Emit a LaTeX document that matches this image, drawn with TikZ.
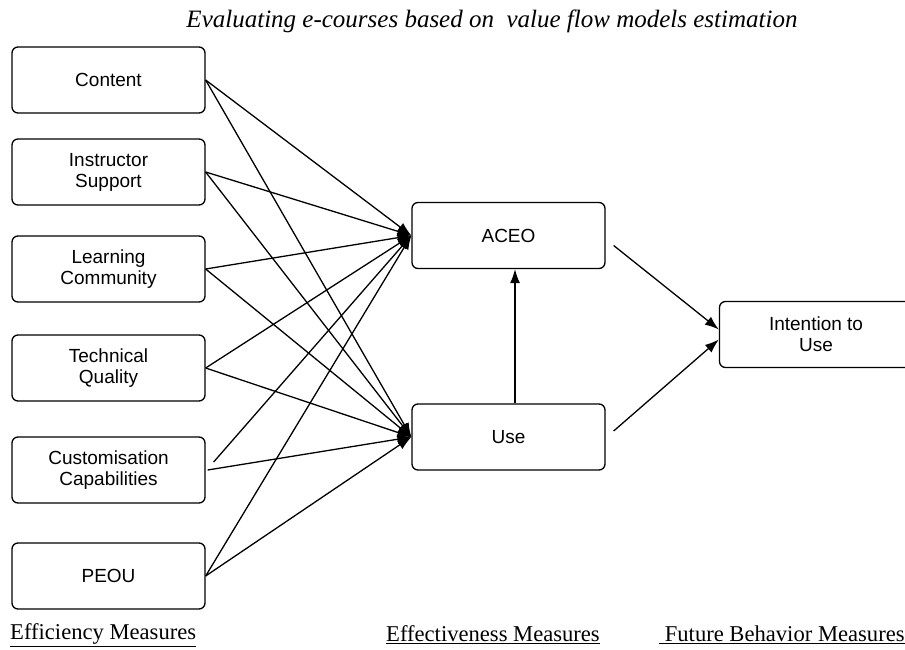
\documentclass[tikz,border=0pt]{standalone}
\usepackage{fontspec}
\setmainfont{Liberation Serif}
\setsansfont{Liberation Sans}
\usetikzlibrary{arrows.meta, positioning}

\begin{document}
\begin{tikzpicture}[
        x=1pt, y=-1pt,
        box/.style={draw, rounded corners=6pt, align=center, minimum width=193pt, minimum height=66pt, inner sep=0pt, line width=1.3pt, font=\sffamily\fontsize{19}{21}\selectfont},
        measure/.style={anchor=west, inner sep=0pt, font=\fontsize{22.6}{24}\selectfont},
        arrow/.style={-{Latex[length=14pt, width=10pt]}, line width=1.3pt}
        ]

        \clip (0,0) rectangle (905,650);

        % Title
        \node[font=\itshape\fontsize{25}{27}\selectfont] (title) at (492,21) {Evaluating e-courses based on \ value flow models estimation};

        % Efficiency nodes
        \foreach \name/\txt/\y in {content/Content/80, instr/{Instructor\\Support}/172, learn/{Learning\\Community}/269, techq/{Technical\\Quality}/368, custom/{Customisation\\Capabilities}/470, peou/PEOU/576} {
                \node[box] (\name) at (108.5, \y) {\txt};
            }

        % Effectiveness and future behaviour
        \node[box] (aceo) at (508.5, 235.5) {ACEO};
        \node[box] (use) at (508.5, 437) {Use};
        \node[box] (intent) at (816, 334.5) {Intention to\\Use};

        % Connect efficiency measures to ACEO and Use
        \foreach \name in {content, instr, learn, techq, peou}
            { \draw[arrow] (\name.east) -- (aceo.west);
                \draw[arrow] (\name.east) -- (use.west);}
        \draw[arrow] ([shift={(8pt,8pt)}]custom.east) -- (aceo.west);
        \draw[arrow] ([xshift=2pt]custom.east) -- (use.west);

        \draw [arrow] ([xshift=6.5pt]use.north) -- ([xshift=6.5pt]aceo.south);
        \draw [arrow] ([shift={(8pt,-10pt)}]aceo.east) -- ([yshift=5pt]intent.west);
        \draw [arrow] ([shift={(8pt,6pt)}]use.east) -- ([yshift=-5pt]intent.west);

        % Measures
        \node[measure] (effic) at (10, 635) {\underline{Efficiency Measures}};
        \node[measure] (effect) at (386, 635) {\underline{Effectiveness Measures}};
        \node[measure] (future) at (659, 635) {\underline{\ Future Behavior Measures}};

    \end{tikzpicture}
\end{document}
